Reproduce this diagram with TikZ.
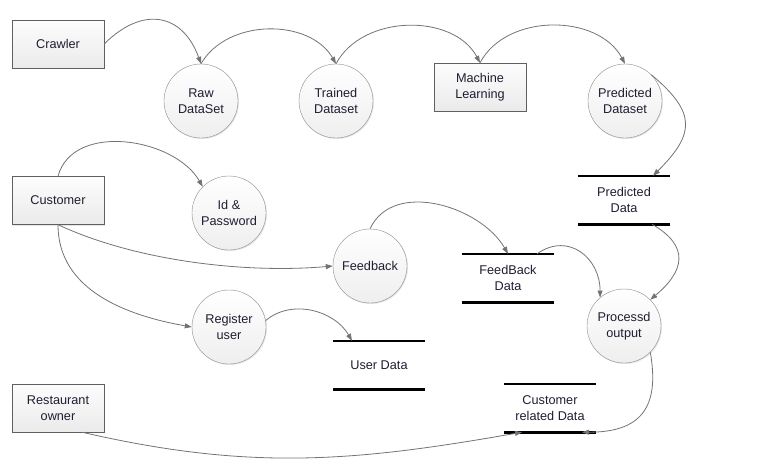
\documentclass[tikz,border=0pt]{standalone}
\usepackage{fontspec}
\setmainfont{Liberation Sans}
\usetikzlibrary{arrows.meta,shadows}
\definecolor{linegray}{HTML}{737373}
\definecolor{edgegray}{HTML}{8C8C8C}
\definecolor{txt}{HTML}{1E1E32}

\begin{document}
\begin{tikzpicture}[x=1pt, y=1pt,
    font=\fontsize{12.7}{16}\selectfont, text=txt,
    process/.style={circle, draw=edgegray, minimum size=74pt, inner sep=0pt, align=center,
        top color=white, bottom color=gray!13,
        drop shadow={opacity=0.2, shadow xshift=1pt, shadow yshift=-1pt}},
    entity/.style={rectangle, draw=gray!75!black, minimum width=92pt, minimum height=48pt, align=center,
        top color=gray!2, bottom color=gray!16,
        drop shadow={opacity=0.2, shadow xshift=1pt, shadow yshift=-1pt}},
    store/.style={rectangle, minimum width=92pt, minimum height=48pt, align=center,
        append after command={(\tikzlastnode.north west) edge[storeline] (\tikzlastnode.north east)
            (\tikzlastnode.south west) edge[storeline] (\tikzlastnode.south east)}},
    storeline/.style={draw=black, line width=2.6pt},
    flow/.style={draw=linegray, line width=0.8pt, -{Triangle[length=7pt, width=5pt]}}]
    \useasboundingbox (0,0) rectangle (764,-469);

    % Define nodes
    \node (crawler) at (58,-44) [entity] {Crawler};
    \node (raw) at (201,-101) [process] {Raw\\DataSet};
    \node (trained) at (336,-101) [process] {Trained\\Dataset};
    \node (ml) at (480,-87) [entity] {Machine\\Learning};
    \node (pdset) at (625,-101) [process] {Predicted\\Dataset};
    \node (pdata) at (624,-200) [store] {Predicted\\Data};
    \node (customer) at (58,-200.5) [entity] {Customer};
    \node (idpw) at (229,-213) [process] {Id \&\\Password};
    \node (feedback) at (370,-266) [process] {Feedback};
    \node (fbdata) at (508,-278) [store] {FeedBack\\Data};
    \node (reguser) at (229,-327) [process] {Register\\user};
    \node (udata) at (379,-365) [store] {User Data};
    \node (proc) at (624,-326) [process] {Processd\\output};
    \node (crdata) at (550,-408) [store] {Customer\\related Data};
    \node (owner) at (58,-408) [entity] {Restaurant\\owner};

    % Draw arrows
    \draw[flow] (crawler.east) to[out=45, in=110, looseness=1.4] (raw.north);
    \draw[flow] (raw.north) to[out=60, in=120] (trained.north);
    \draw[flow] (trained.north) to[out=62, in=118] (ml.north);
    \draw[flow] (ml.north) to[out=62, in=118] (pdset.north);
    \draw[flow] (pdset.north east) to[out=-40, in=45, looseness=1.5] ([xshift=29pt]pdata.north);
    \draw[flow] ([xshift=28pt]pdata.south) to[out=-30, in=40, looseness=1.5] (proc.north east);
    \draw[flow] (customer.north) to[out=75, in=120] (idpw.north west);
    \draw[flow] (customer.south) to[out=-25, in=185, looseness=0.8] (feedback.west);
    \draw[flow] (customer.south) to[out=-90, in=170] (reguser.west);
    \draw[flow] (reguser.10) to[out=40, in=120] ([xshift=-27pt]udata.north);
    \draw[flow] (feedback.north) to[out=65, in=120] (fbdata.north);
    \draw[flow] ([xshift=29pt]fbdata.north) to[out=35, in=90, looseness=1.3] (proc.130);
    \draw[flow] (proc.south east) to[out=-80, in=0, looseness=1.4] ([xshift=32pt]crdata.south);
    \draw[flow] ([xshift=24pt]owner.south) to[out=-13, in=190] ([xshift=-28pt]crdata.south);
\end{tikzpicture}
\end{document}
